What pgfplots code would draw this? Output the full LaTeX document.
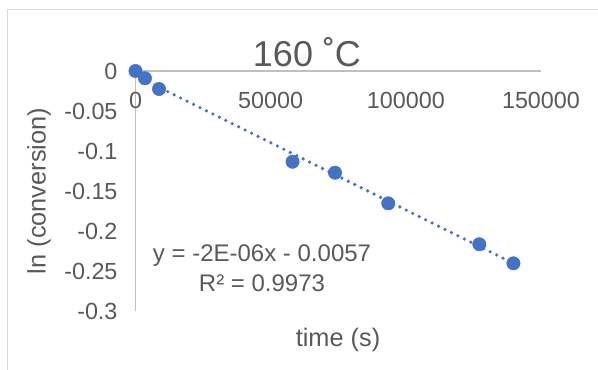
\documentclass[border=0pt]{standalone}
\usepackage{pgfplots}
\pgfplotsset{compat=1.18}
\usepackage{fontspec}
\setmainfont{Liberation Sans}
\definecolor{txt}{RGB}{89,89,89}
\definecolor{axl}{RGB}{191,191,191}
\definecolor{frm}{RGB}{217,217,217}
\definecolor{mk}{RGB}{68,114,196}
\begin{document}
\begin{tikzpicture}[x=0.75pt,y=-0.75pt]
\useasboundingbox (0,0) rectangle (598,369);
\draw[frm, line width=0.75pt] (7,9) rectangle (650,420);
\coordinate (O) at (135.5,71);
\begin{axis}[
  at={(O)}, anchor=north west,
  scale only axis,
  width=304.1pt, height=180pt,
  xmin=0, xmax=150000, ymin=-0.3, ymax=0,
  axis lines=middle,
  axis line style={-, axl, line width=0.9pt},
  hide obscured x ticks=false, hide obscured y ticks=false,
  scaled x ticks=false, scaled y ticks=false,
  major tick length=0pt,
  xtick={0,50000,100000,150000},
  xticklabels={0,50000,100000,150000},
  ytick={0,-0.05,-0.1,-0.15,-0.2,-0.25,-0.3},
  yticklabels={0,-0.05,-0.1,-0.15,-0.2,-0.25,-0.3},
  xticklabel style={font=\fontsize{17.5}{20}\selectfont, text=txt, anchor=north, yshift=-12pt},
  yticklabel style={font=\fontsize{17.5}{20}\selectfont, text=txt, anchor=east, xshift=-10pt},
  clip=false,
]
\addplot[mk, line width=2.7pt, dash pattern=on 0pt off 5.4pt, line cap=round] coordinates {(0,-0.0057) (139800,-0.2404)};
\addplot[only marks, mark=*, mark size=5pt, mk, mark options={fill=mk, draw=mk}] coordinates {
(0,0) (3500,-0.0091) (8700,-0.0225) (58100,-0.1134) (73800,-0.1271) (93500,-0.1654) (127200,-0.2166) (139800,-0.2404)};
\end{axis}
\node[text=txt, font=\fontsize{27}{30}\selectfont] at (307,52) {160 ˚C};
\node[text=txt, font=\fontsize{19}{22}\selectfont, rotate=90] at (39,191) {ln (conversion)};
\node[text=txt, font=\fontsize{19}{22}\selectfont] at (338,340) {time (s)};
\node[text=txt, font=\fontsize{18}{20}\selectfont] at (262,256) {y = -2E-06x - 0.0057};
\node[text=txt, font=\fontsize{18}{20}\selectfont] at (262,283) {R² = 0.9973};
\end{tikzpicture}
\end{document}
